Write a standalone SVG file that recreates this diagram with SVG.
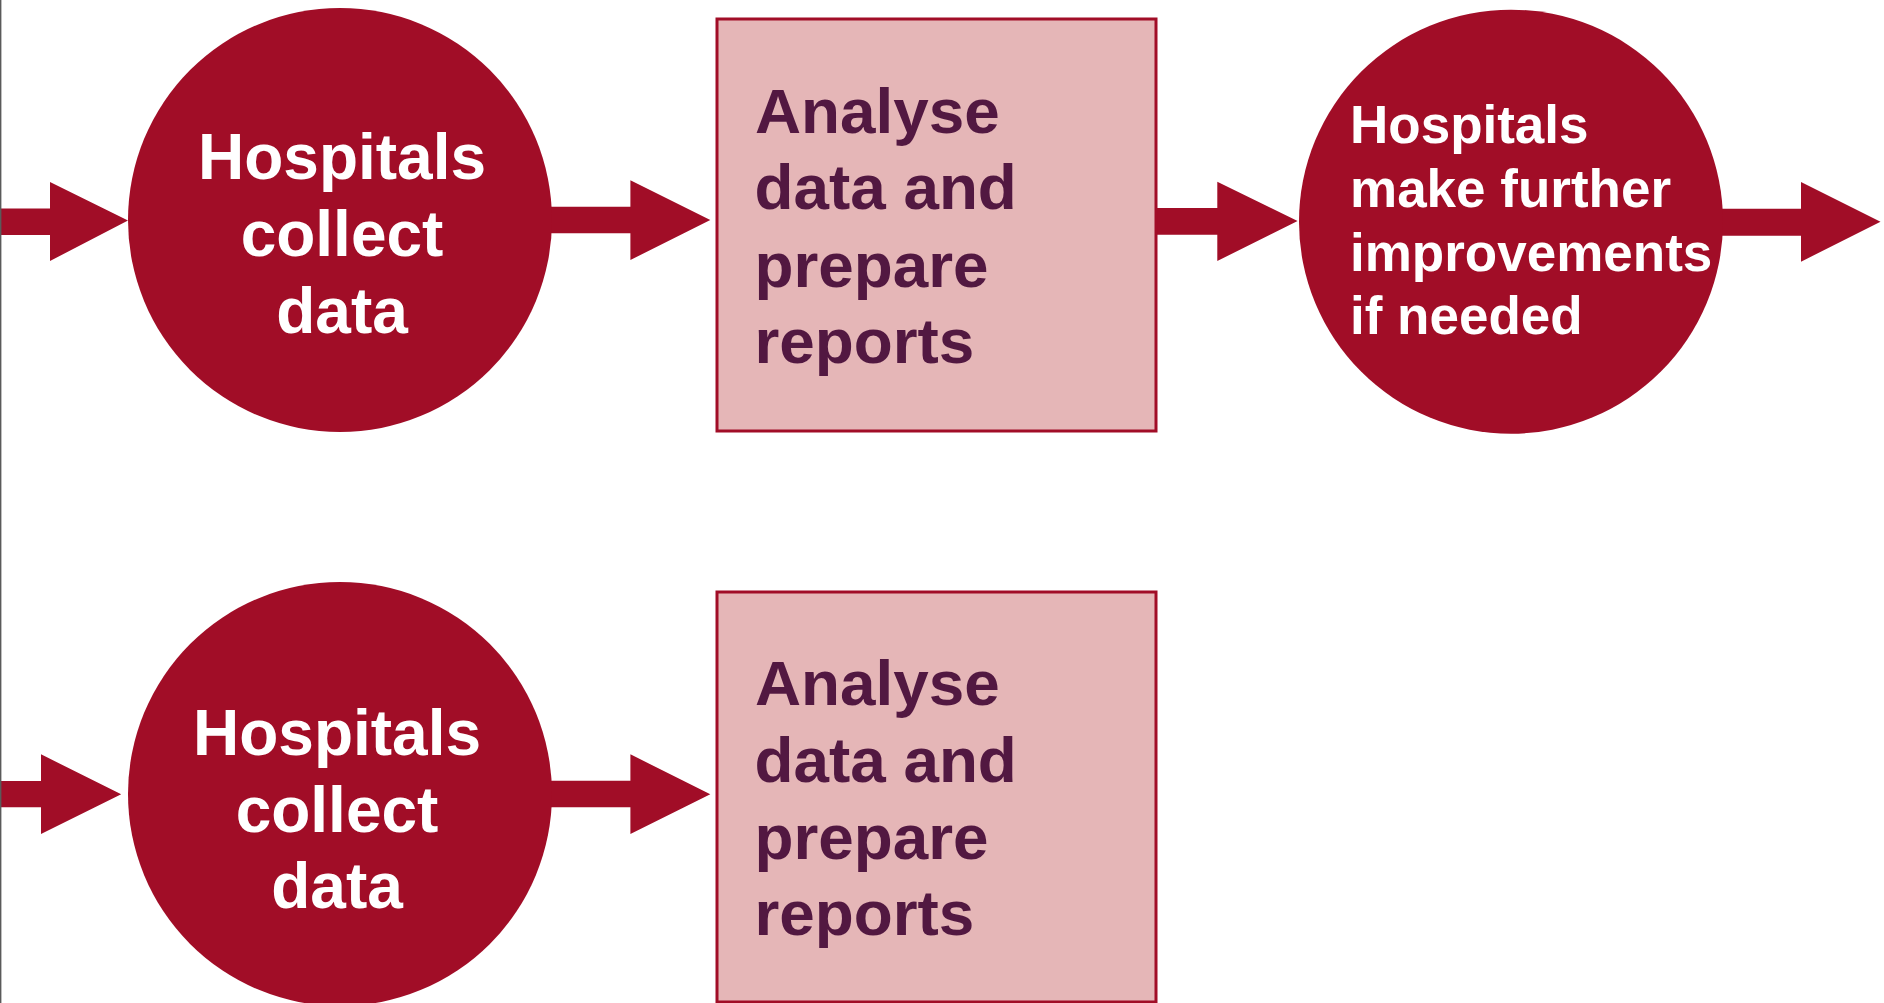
<svg xmlns="http://www.w3.org/2000/svg" width="1884" height="1003" viewBox="0 0 1884 1003">
  <style>
    .arrow { fill: #a10d27; }
    .circle { fill: #a10d27; }
    .box { fill: #e5b6b7; stroke: #a10d27; stroke-width: 3; }
    .ctext { font-family: "Liberation Sans", Arial, sans-serif; font-weight: bold; fill: #ffffff; }
    .mid { text-anchor: middle; font-size: 64px; }
    .btext { font-family: "Liberation Sans", Arial, sans-serif; font-weight: bold; fill: #521841; font-size: 63.8px; }
  </style>
  <rect x="0" y="0" width="1884" height="1003" fill="#ffffff"/>

  <!-- flow arrows -->
  <g id="connectors">
    <polygon class="arrow" points="0,208.5 50,208.5 50,182 128,220.5 50,261 50,235 0,235"/>
    <polygon class="arrow" points="545,206.7 630.4,206.7 630.4,180.3 710.3,220 630.4,260 630.4,233.3 545,233.3"/>
    <polygon class="arrow" points="1156,208 1217.3,208 1217.3,181.7 1297.6,221 1217.3,261 1217.3,234.7 1156,234.7"/>
    <polygon class="arrow" points="1716,208.7 1801,208.7 1801,182 1880.5,221.7 1801,261.7 1801,235.7 1716,235.7"/>
    <polygon class="arrow" points="0,781 41,781 41,754.3 121.2,794.3 41,834 41,807.3 0,807.3"/>
    <polygon class="arrow" points="545,780.7 630.4,780.7 630.4,754.3 710.3,794.3 630.4,834 630.4,807.3 545,807.3"/>
  </g>

  <!-- row 1 -->
  <g id="collect-1">
    <circle class="circle" cx="340" cy="220" r="212"/>
    <text class="ctext mid" x="342" y="179.3">Hospitals</text>
    <text class="ctext mid" x="342" y="256">collect</text>
    <text class="ctext mid" x="342" y="332.7">data</text>
  </g>

  <g id="analyse-1">
    <rect class="box" x="717" y="19" width="439" height="412"/>
    <text class="btext" x="755" y="132.7">Analyse</text>
    <text class="btext" x="754.5" y="209.3">data and</text>
    <text class="btext" x="754.5" y="286.7">prepare</text>
    <text class="btext" x="754.5" y="362.7">reports</text>
  </g>

  <g id="improve-1">
    <circle class="circle" cx="1511" cy="221.7" r="212"/>
    <text class="ctext" font-size="53" x="1350" y="143.3">Hospitals</text>
    <text class="ctext" font-size="53" x="1350" y="206.7">make further</text>
    <text class="ctext" font-size="53" x="1350" y="270.7">improvements</text>
    <text class="ctext" font-size="53" x="1350" y="334.3">if needed</text>
  </g>

  <!-- row 2 -->
  <g id="collect-2">
    <circle class="circle" cx="340" cy="794" r="212"/>
    <text class="ctext mid" x="337" y="755">Hospitals</text>
    <text class="ctext mid" x="337" y="831.7">collect</text>
    <text class="ctext mid" x="337" y="908.3">data</text>
  </g>

  <g id="analyse-2">
    <rect class="box" x="717" y="592" width="439" height="410"/>
    <text class="btext" x="755" y="705.3">Analyse</text>
    <text class="btext" x="754.5" y="782">data and</text>
    <text class="btext" x="754.5" y="858.7">prepare</text>
    <text class="btext" x="754.5" y="935">reports</text>
  </g>

  <!-- page edge rule -->
  <line x1="0.7" y1="0" x2="0.7" y2="1003" stroke="#5a5a5a" stroke-width="1.4"/>
</svg>
